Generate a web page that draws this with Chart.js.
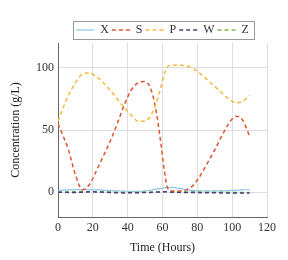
<!DOCTYPE html>
<html>
<head>
<meta charset="utf-8">
<script src="https://cdn.jsdelivr.net/npm/chart.js@4.4.0/dist/chart.umd.min.js"></script>
<style>
  html, body { margin: 0; padding: 0; background: #fff; }
  #wrap { width: 288px; height: 260px; }
</style>
</head>
<body>
<div id="wrap"><canvas id="chart"></canvas></div>
<script>
// Data
const timeHours = [0, 3, 6, 10, 14, 18, 22, 26, 30, 34, 38, 42, 46, 50, 53, 56, 59, 61, 63, 66, 70, 74, 78, 82, 86, 90, 94, 98, 102, 106, 110];
const xValues = [1.5, 1.7, 1.8, 2, 2, 2, 1.8, 1.5, 1.2, 1, 0.8, 0.6, 0.6, 1, 1.5, 2.2, 3, 3.5, 3.8, 3.8, 3, 2, 1.2, 1, 1, 1, 1, 1.2, 1.5, 1.8, 2];
const sValues = [55, 45, 34, 14, 2, 6, 17, 29, 41, 55, 70, 82, 88, 89, 84, 68, 40, 18, 3, 1, 1, 2, 6, 14, 24, 34, 45, 55, 61, 58, 45];
const pValues = [57, 68, 78, 88, 95, 96, 93, 88, 82, 75, 68, 62, 57, 57, 61, 70, 84, 95, 101, 102, 102, 101.5, 99, 95, 90, 85, 80, 75, 72, 73, 78];
const wValues = [0, 0, -0.2, -0.3, 0, 0.3, 0.2, 0, -0.3, -0.5, -0.6, -0.5, -0.4, -0.3, -0.2, 0, 0.2, 0.3, 0.2, 0, -0.2, -0.3, -0.3, -0.4, -0.5, -0.5, -0.6, -0.6, -0.6, -0.6, -0.6];
const zValues = [0, 0.1, 0.2, 0.3, 0.4, 0.4, 0.3, 0.2, 0, -0.1, -0.2, -0.2, -0.2, -0.1, 0, 0.1, 0.2, 0.3, 0.3, 0.3, 0.2, 0.2, 0.1, 0, 0, -0.1, -0.1, -0.2, -0.2, -0.2, -0.2];
const seriesNames = ['X', 'S', 'P', 'W', 'Z'];
const xTicks = [0, 20, 40, 60, 80, 100, 120];
const yTicks = [0, 50, 100];

const FONT = "'Liberation Serif', 'DejaVu Serif', serif";

function points(values) {
  return timeHours.map((t, i) => ({ x: t, y: values[i] }));
}

// Nudge the legend down a little and draw a thin frame round its items
const legendFrame = {
  id: 'legendFrame',
  afterLayout(chart) {
    chart.legend.top += 3;
    chart.legend.bottom += 3;
  },
  afterDraw(chart) {
    const boxes = chart.legend.legendHitBoxes;
    if (!boxes || !boxes.length) return;
    const left = Math.min(...boxes.map(b => b.left)) - 3;
    const right = Math.max(...boxes.map(b => b.left + b.width)) + 5;
    const top = Math.min(...boxes.map(b => b.top)) - 3;
    const bottom = Math.max(...boxes.map(b => b.top + b.height)) + 3;
    const ctx = chart.ctx;
    ctx.save();
    ctx.strokeStyle = '#999';
    ctx.lineWidth = 1;
    ctx.strokeRect(Math.round(left) + 0.5, Math.round(top) + 0.5, Math.round(right - left), Math.round(bottom - top));
    ctx.restore();
  }
};

// Legend samples: use each line's own colour, width and dash
function lineLabels(chart) {
  const items = Chart.defaults.plugins.legend.labels.generateLabels(chart);
  return items.map(item => {
    const ds = chart.data.datasets[item.datasetIndex];
    item.strokeStyle = ds.borderColor;
    item.lineWidth = ds.borderWidth;
    item.lineDash = ds.borderDash || [];
    item.pointStyle = 'line';
    return item;
  });
}

const ctx = document.getElementById('chart').getContext('2d');
new Chart(ctx, {
  type: 'line',
  data: {
    datasets: [
      { label: seriesNames[0], data: points(xValues), borderColor: '#8ec6e6', borderWidth: 1.2, order: 4 },
      { label: seriesNames[1], data: points(sValues), borderColor: '#e05530', borderWidth: 1.5, borderDash: [4, 3], order: 1 },
      { label: seriesNames[2], data: points(pValues), borderColor: '#f6b840', borderWidth: 1.5, borderDash: [4, 3], order: 0 },
      { label: seriesNames[3], data: points(wValues), borderColor: '#45407a', borderWidth: 1.5, borderDash: [4, 3], order: 2 },
      { label: seriesNames[4], data: points(zValues), borderColor: '#7cb84e', borderWidth: 1.5, borderDash: [4, 3], order: 3 }
    ]
  },
  options: {
    responsive: true,
    maintainAspectRatio: false,
    animation: false,
    devicePixelRatio: 1,
    layout: { padding: { top: 18, right: 21, left: 0, bottom: 0 } },
    elements: {
      point: { radius: 0 },
      line: { cubicInterpolationMode: 'monotone', fill: false }
    },
    plugins: {
      tooltip: { enabled: false },
      legend: {
        position: 'top',
        fullSize: false,
        labels: {
          font: { family: FONT, size: 12 },
          color: '#333',
          usePointStyle: true,
          pointStyle: 'line',
          pointStyleWidth: 18,
          padding: 3,
          generateLabels: lineLabels,
          sort: (a, b) => a.datasetIndex - b.datasetIndex
        }
      }
    },
    scales: {
      x: {
        type: 'linear',
        min: 0,
        max: 120,
        afterBuildTicks: axis => { axis.ticks = xTicks.map(v => ({ value: v })); },
        afterFit: axis => { axis.height = 43; },
        grid: { color: '#dddddd', tickLength: 0, drawTicks: false },
        border: { color: '#666', width: 1 },
        ticks: { font: { family: FONT, size: 12 }, color: '#333', padding: 4, maxRotation: 0 },
        title: { display: true, text: 'Time (Hours)', font: { family: FONT, size: 12 }, color: '#222', padding: { top: 2, bottom: 5 } }
      },
      y: {
        type: 'linear',
        min: -20,
        max: 120,
        afterBuildTicks: axis => { axis.ticks = yTicks.map(v => ({ value: v })); },
        afterFit: axis => { axis.width = 58; },
        grid: { color: '#dddddd', tickLength: 0, drawTicks: false },
        border: { color: '#666', width: 1 },
        ticks: { font: { family: FONT, size: 12 }, color: '#333', padding: 4 },
        title: { display: true, text: 'Concentration (g/L)', font: { family: FONT, size: 12 }, color: '#222', padding: { top: 9, bottom: 4 } }
      }
    }
  },
  plugins: [legendFrame]
});
</script>
</body>
</html>
